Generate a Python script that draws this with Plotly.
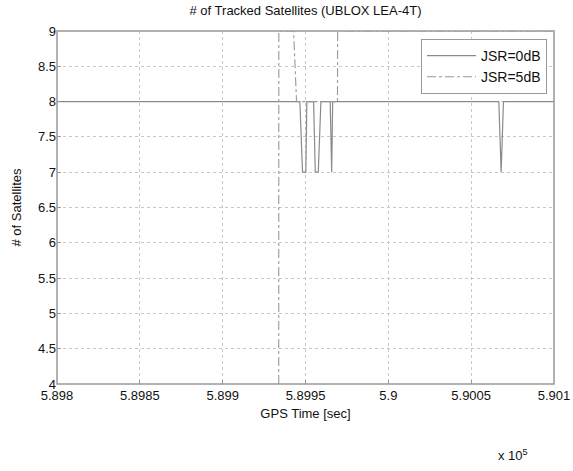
import plotly.graph_objects as go

# Data (GPS time in seconds, number of tracked satellites)
t_jsr0 = [589800, 589946.6, 589948.2, 589950.2, 589950.8, 589954.9, 589955.9, 589957.7, 589959.3,
          589964.9, 589965.8, 589966.4, 590066.7, 590068.1, 590069.5, 590100]
n_jsr0 = [8, 8, 7, 7, 8, 8, 7, 7, 8,
          8, 7, 8, 8, 7, 8, 8]

t_jsr5 = [589800, 589933.8, 589933.9, 589942.8, 589944.6, 589969.3, 589969.4, 590100]
n_jsr5 = [0, 0, 9, 9, 8, 8, 9, 9]

x_tickvals = [589800, 589850, 589900, 589950, 590000, 590050, 590100]
x_ticktext = ["5.898", "5.8985", "5.899", "5.8995", "5.9", "5.9005", "5.901"]
y_tickvals = [4, 4.5, 5, 5.5, 6, 6.5, 7, 7.5, 8, 8.5, 9]
y_ticktext = ["4", "4.5", "5", "5.5", "6", "6.5", "7", "7.5", "8", "8.5", "9"]

FONT = "Liberation Sans, Arial, sans-serif"
BORDER = "#999999"

fig = go.Figure()
fig.add_trace(go.Scatter(x=t_jsr0, y=n_jsr0, mode="lines", name="JSR=0dB",
                         line=dict(color="#8a8a8a", width=1.2)))
fig.add_trace(go.Scatter(x=t_jsr5, y=n_jsr5, mode="lines", name="JSR=5dB",
                         line=dict(color=BORDER, width=1.1, dash="dashdot")))

axis_common = dict(
    showline=False, mirror=False,
    showgrid=True, gridcolor="#c8c8c8", gridwidth=1, griddash="dot",
    zeroline=False, ticks="inside", ticklen=4, tickcolor=BORDER, automargin=False,
    tickfont=dict(family=FONT, size=13, color="#111"),
)

fig.update_layout(
    width=573, height=471,
    margin=dict(l=57, r=19, t=31, b=87),
    paper_bgcolor="white", plot_bgcolor="white",
    font=dict(family=FONT, size=13, color="#111"),
    title=dict(text="# of Tracked Satellites (UBLOX LEA-4T)", x=0.5, xref="paper",
               yref="container", y=1 - 10 / 471, yanchor="middle", automargin=False,
               font=dict(family=FONT, size=13, color="#111")),
    xaxis=dict(range=[589800, 590100], tickvals=x_tickvals, ticktext=x_ticktext,
               ticklabelstandoff=2,
               title=dict(text="GPS Time [sec]", standoff=6, font=dict(family=FONT, size=13)),
               **axis_common),
    yaxis=dict(range=[4, 9], tickvals=y_tickvals, ticktext=y_ticktext,
               title=dict(text="# of Satellites", standoff=13, font=dict(family=FONT, size=13)),
               **axis_common),
    legend=dict(x=(547 - 57) / 497, y=(384 - 39) / 353, xanchor="right", yanchor="top",
                bgcolor="white", bordercolor=BORDER, borderwidth=1,
                font=dict(family=FONT, size=14, color="#111"),
                itemwidth=49),
    showlegend=True,
)

# axes box drawn above the traces
fig.add_shape(type="rect", xref="paper", yref="paper", x0=0, y0=0, x1=1, y1=1,
              line=dict(color=BORDER, width=1.5), fillcolor="rgba(0,0,0,0)", layer="above")

fig.add_annotation(text="x 10<sup>5</sup>", xref="paper", yref="paper",
                   x=(513 - 57) / 497, y=-(455 - 384) / 353,
                   xanchor="center", yanchor="middle", showarrow=False,
                   font=dict(family=FONT, size=13, color="#111"))

fig.write_html("out.html", config={"displayModeBar": False},
               post_script="document.body.style.margin='0';document.body.style.padding='0';"
                           "window.dispatchEvent(new Event('resize'));")
